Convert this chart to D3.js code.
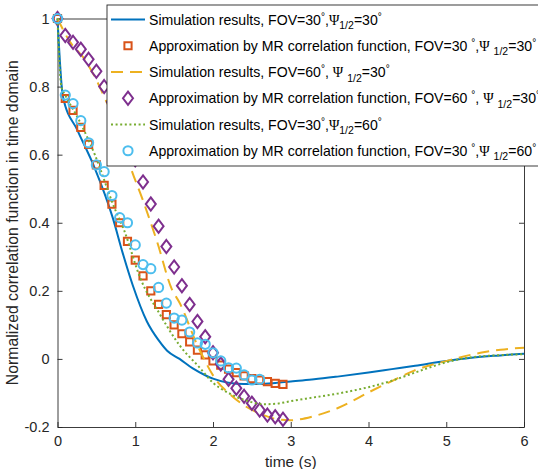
<!DOCTYPE html>
<html>
<head>
<meta charset="utf-8">
<script src="https://cdn.jsdelivr.net/npm/d3@7"></script>
<style>
  body { margin: 0; background: #fff; }
  text { font-family: "Liberation Sans", Arial, Helvetica, sans-serif; }
</style>
</head>
<body>
<div id="chart"></div>
<script>
// simulated curves as [time, value]
var simFov30Psi30 = [[0,1],[0.07,0.77],[0.26,0.67],[0.48,0.56],[0.71,0.415],[0.84,0.31],[0.97,0.215],[1.15,0.11],[1.3,0.055],[1.41,0.024],[1.57,0.0],[1.74,-0.028],[1.9,-0.048],[2.0,-0.058],[2.2,-0.07],[2.4,-0.074],[2.6,-0.074],[2.8,-0.071],[3.0,-0.066],[3.3,-0.06],[3.6,-0.052],[4.0,-0.04],[4.3,-0.03],[4.6,-0.02],[5.0,-0.006],[5.3,0.003],[5.6,0.009],[6.0,0.015]];
var simFov60Psi30 = [[0,1],[0.15,0.935],[0.35,0.88],[0.52,0.81],[0.6,0.77],[0.8,0.67],[0.93,0.57],[1.1,0.465],[1.28,0.345],[1.47,0.205],[1.57,0.165],[1.79,0.045],[2.05,-0.065],[2.2,-0.1],[2.39,-0.135],[2.65,-0.165],[2.85,-0.178],[3.0,-0.18],[3.3,-0.168],[3.6,-0.145],[4.03,-0.095],[4.3,-0.065],[4.58,-0.035],[5.02,-0.005],[5.44,0.018],[5.7,0.027],[6.0,0.033]];
var simFov30Psi60 = [[0,1],[0.05,0.8],[0.1,0.775],[0.28,0.70],[0.48,0.60],[0.73,0.445],[0.86,0.376],[1.06,0.24],[1.32,0.13],[1.57,0.04],[1.83,-0.026],[2.0,-0.07],[2.2,-0.1],[2.4,-0.12],[2.65,-0.133],[2.8,-0.132],[3.0,-0.124],[3.3,-0.113],[3.6,-0.102],[4.0,-0.083],[4.3,-0.064],[4.6,-0.04],[5.0,-0.01],[5.3,0.004],[5.6,0.01],[6.0,0.014]];

// MR approximation markers, sampled every 0.1 s
var approxTimes = d3.range(0, 30).map(function(i) { return i / 10; });
var approxFov30Psi30 = [1.0,0.765,0.73,0.68,0.63,0.57,0.51,0.455,0.40,0.345,0.29,0.244,0.20,0.16,0.13,0.10,0.074,0.05,0.026,0.012,-0.006,-0.018,-0.03,-0.04,-0.05,-0.058,-0.062,-0.067,-0.072,-0.075];
var approxFov60Psi30 = [1.0,0.95,0.93,0.91,0.88,0.845,0.80,0.755,0.70,0.645,0.585,0.52,0.455,0.39,0.33,0.27,0.215,0.16,0.11,0.065,0.018,-0.015,-0.06,-0.086,-0.11,-0.13,-0.15,-0.165,-0.17,-0.177];
var approxFov30Psi60 = [1.0,0.775,0.75,0.70,0.635,0.57,0.55,0.48,0.415,0.40,0.335,0.277,0.265,0.21,0.164,0.12,0.114,0.079,0.047,0.043,0.018,-0.006,-0.026,-0.027,-0.047,-0.062,-0.06];

var xTicks = [0, 1, 2, 3, 4, 5, 6];
var yTicks = [-0.2, 0, 0.2, 0.4, 0.6, 0.8, 1];

var legendLabels = [
  "Simulation results, FOV=30^°,Ψ_1/2=30^°",
  "Approximation by MR correlation function, FOV=30 ^°,Ψ _1/2=30^°",
  "Simulation results, FOV=60^°, Ψ _1/2=30^°",
  "Approximation by MR correlation function, FOV=60 ^°, Ψ _1/2=30^°",
  "Simulation results, FOV=30^°,Ψ_1/2=60^°",
  "Approximation by MR correlation function, FOV=30 ^°,Ψ _1/2=60^°"
];

var blue = "#0072BD", red = "#D95319", yellow = "#EDB120",
    purple = "#7E2F8E", green = "#77AC30", cyan = "#4DBEEE";

var margin = {top: 18.5, right: 14, bottom: 42, left: 57.5},
    width = 538 - margin.left - margin.right,
    height = 469 - margin.top - margin.bottom;

var svg = d3.select("#chart")
  .append("svg")
  .attr("width", 538)
  .attr("height", 469)
  .append("g")
  .attr("transform", "translate(" + margin.left + "," + margin.top + ")");

var xScale = d3.scaleLinear().domain([0, 6]).range([0, width]);
var yScale = d3.scaleLinear().domain([-0.2, 1]).range([height, 0]);

var fmt = function(d) { return String(+d.toFixed(1)); };

// axes with inward ticks, box on
svg.append("g")
  .attr("transform", "translate(0," + height + ")")
  .call(d3.axisBottom(xScale).tickValues(xTicks).tickFormat(fmt).tickSizeInner(-5).tickSizeOuter(0).tickPadding(9))
  .call(styleAxis);
svg.append("g")
  .call(d3.axisTop(xScale).tickValues(xTicks).tickFormat(null).tickSizeInner(-5).tickSizeOuter(0))
  .call(styleAxis)
  .selectAll(".tick text").remove();
svg.append("g")
  .call(d3.axisLeft(yScale).tickValues(yTicks).tickFormat(fmt).tickSizeInner(-5).tickSizeOuter(0).tickPadding(8))
  .call(styleAxis);
svg.append("g")
  .attr("transform", "translate(" + width + ",0)")
  .call(d3.axisRight(yScale).tickValues(yTicks).tickSizeInner(-5).tickSizeOuter(0))
  .call(styleAxis)
  .selectAll(".tick text").remove();

function styleAxis(g) {
  g.select(".domain").attr("stroke", "#262626").attr("stroke-width", 0.9);
  g.selectAll(".tick line").attr("stroke", "#262626").attr("stroke-width", 0.9);
  g.selectAll(".tick text").attr("fill", "#262626").style("font-size", "14.5px")
    .style("font-family", "'Liberation Sans', Arial, sans-serif");
}

// axis labels
svg.append("text")
  .attr("x", width / 2)
  .attr("y", height + 40)
  .attr("text-anchor", "middle")
  .attr("fill", "#262626")
  .style("font-size", "15.5px")
  .text("time (s)");

svg.append("text")
  .attr("transform", "translate(" + (-40) + "," + (height / 2) + ") rotate(-90)")
  .attr("text-anchor", "middle")
  .attr("fill", "#262626")
  .style("font-size", "15.8px")
  .text("Normalized correlation function in time domain");

// series
var line = d3.line()
  .x(function(d) { return xScale(d[0]); })
  .y(function(d) { return yScale(d[1]); })
  .curve(d3.curveMonotoneX);

function pairs(vals) {
  return vals.map(function(v, i) { return [approxTimes[i], v]; });
}

var squarePath = "M-3.6,-3.6H3.6V3.6H-3.6Z";
var diamondPath = "M0,-6.6L5,0L0,6.6L-5,0Z";

function drawLine(data, color, dash) {
  svg.append("path")
    .datum(data)
    .attr("fill", "none")
    .attr("stroke", color)
    .attr("stroke-width", 2)
    .attr("stroke-dasharray", dash)
    .attr("d", line);
}

function drawMarkers(vals, color, kind) {
  var g = svg.append("g");
  var pts = g.selectAll(".m").data(pairs(vals)).enter();
  if (kind === "circle") {
    pts.append("circle")
      .attr("cx", function(d) { return xScale(d[0]); })
      .attr("cy", function(d) { return yScale(d[1]); })
      .attr("r", 4.6)
      .attr("fill", "none").attr("stroke", color).attr("stroke-width", 2);
  } else {
    pts.append("path")
      .attr("transform", function(d) { return "translate(" + xScale(d[0]) + "," + yScale(d[1]) + ")"; })
      .attr("d", kind === "square" ? squarePath : diamondPath)
      .attr("fill", "none").attr("stroke", color).attr("stroke-width", 2);
  }
}

drawLine(simFov30Psi30, blue, null);
drawMarkers(approxFov30Psi30, red, "square");
drawLine(simFov60Psi30, yellow, "12,7");
drawMarkers(approxFov60Psi30, purple, "diamond");
drawLine(simFov30Psi60, green, "2,2.6");
drawMarkers(approxFov30Psi60, cyan, "circle");

// legend, drawn over the plot
var legend = d3.select("svg").append("g");
legend.append("rect")
  .attr("x", 107).attr("y", 5)
  .attr("width", 440).attr("height", 161)
  .attr("fill", "#fff").attr("stroke", "#262626").attr("stroke-width", 0.9);

var legendStyle = [
  {color: blue, dash: null, marker: null},
  {color: red, dash: null, marker: "square"},
  {color: yellow, dash: "12,7", marker: null},
  {color: purple, dash: null, marker: "diamond"},
  {color: green, dash: "2,2.6", marker: null},
  {color: cyan, dash: null, marker: "circle"}
];

legendLabels.forEach(function(label, i) {
  var cy = 19.5 + i * 26.25;
  var st = legendStyle[i];
  if (st.marker === null) {
    legend.append("line")
      .attr("x1", 111).attr("x2", 145).attr("y1", cy).attr("y2", cy)
      .attr("stroke", st.color).attr("stroke-width", 2)
      .attr("stroke-dasharray", st.dash);
  } else if (st.marker === "circle") {
    legend.append("circle").attr("cx", 128).attr("cy", cy).attr("r", 4.6)
      .attr("fill", "none").attr("stroke", st.color).attr("stroke-width", 2);
  } else {
    legend.append("path")
      .attr("transform", "translate(128," + cy + ")")
      .attr("d", st.marker === "square" ? squarePath : diamondPath)
      .attr("fill", "none").attr("stroke", st.color).attr("stroke-width", 2);
  }

  var t = legend.append("text")
    .attr("x", 149).attr("y", cy + 5)
    .attr("fill", "#000")
    .style("font-size", "14.1px");
  // split label into plain / superscript / subscript pieces,
  // carrying the baseline offset back on the next piece
  var back = 0;
  label.split(/(\^°|_1\/2|Ψ)/).forEach(function(part) {
    if (part === "") return;
    var ts = t.append("tspan");
    if (part === "^°") {
      ts.attr("dy", back - 5).style("font-size", "10px").text("°");
      back = 5;
    } else if (part === "_1/2") {
      ts.attr("dy", back + 4.5).style("font-size", "10.5px").text("1/2");
      back = -4.5;
    } else {
      if (back) ts.attr("dy", back);
      back = 0;
      if (part === "Ψ") ts.style("font-family", "'Liberation Serif', 'Times New Roman', serif");
      ts.text(part);
    }
  });
});
</script>
</body>
</html>
